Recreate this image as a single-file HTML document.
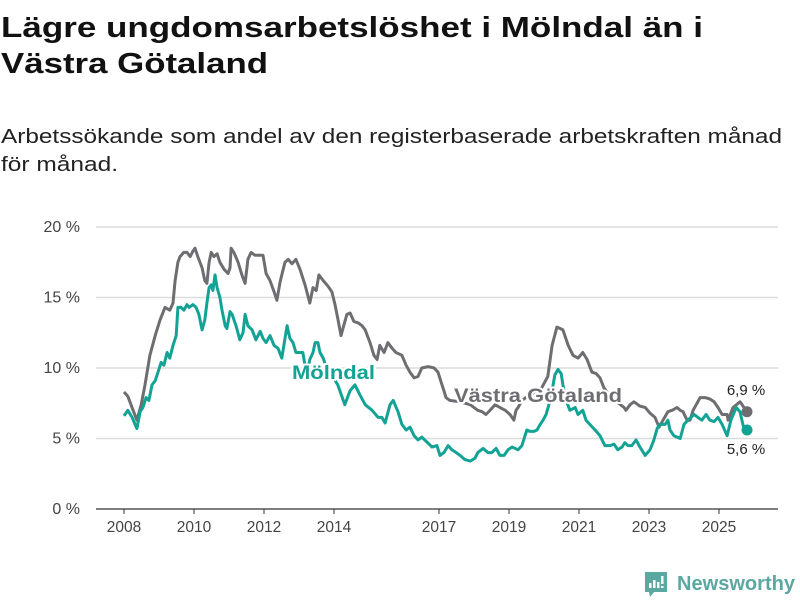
<!DOCTYPE html>
<html><head><meta charset="utf-8"><style>
body{margin:0;background:#fff;}
svg{display:block;font-family:"Liberation Sans","DejaVu Sans",sans-serif;}
</style></head><body>
<svg id="chart" width="800" height="600" viewBox="0 0 800 600" xmlns="http://www.w3.org/2000/svg">
<text x="1" y="37" font-size="29" font-weight="bold" fill="#111" textLength="702" lengthAdjust="spacingAndGlyphs">Lägre ungdomsarbetslöshet i Mölndal än i</text>
<text x="1" y="73" font-size="29" font-weight="bold" fill="#111" textLength="267" lengthAdjust="spacingAndGlyphs">Västra Götaland</text>
<text x="1" y="143" font-size="20" fill="#222" textLength="781" lengthAdjust="spacingAndGlyphs">Arbetssökande som andel av den registerbaserade arbetskraften månad</text>
<text x="1" y="171" font-size="20" fill="#222" textLength="117" lengthAdjust="spacingAndGlyphs">för månad.</text>
<g id="grid"></g><g id="axes"></g><g id="lines"></g><g id="labels"></g>
<g>
<path d="M645 572 h22 v20 h-13 l-4 5 l-1 -5 h-4 z" fill="#5aa8a0"/>
<rect x="649" y="583" width="2.5" height="5" fill="#fff"/><rect x="653" y="580" width="2.5" height="8" fill="#fff"/><rect x="657" y="582" width="2.5" height="6" fill="#fff"/><rect x="661" y="576" width="2.5" height="8" fill="#fff"/><rect x="661" y="586" width="2.5" height="2" fill="#fff"/>
<text x="677" y="590" font-size="20" font-weight="bold" fill="#5aa8a0" textLength="118" lengthAdjust="spacingAndGlyphs">Newsworthy</text>
</g>
</svg>
<script>
const yTicks=[0,5,10,15,20];
const xTickYears=[2008,2010,2012,2014,2017,2019,2021,2023,2025];
const vgDates=[2008.00,2008.11,2008.26,2008.37,2008.49,2008.60,2008.74,2008.89,2009.03,2009.17,2009.31,2009.40,2009.46,2009.54,2009.60,2009.71,2009.80,2009.89,2009.97,2010.03,2010.11,2010.23,2010.31,2010.37,2010.43,2010.49,2010.57,2010.66,2010.74,2010.86,2010.97,2011.03,2011.06,2011.14,2011.26,2011.37,2011.46,2011.54,2011.63,2011.74,2011.86,2011.97,2012.06,2012.17,2012.29,2012.37,2012.46,2012.51,2012.60,2012.69,2012.80,2012.91,2013.03,2013.17,2013.31,2013.40,2013.49,2013.57,2013.69,2013.83,2013.94,2014.03,2014.11,2014.20,2014.29,2014.37,2014.46,2014.57,2014.69,2014.80,2014.89,2015.03,2015.14,2015.23,2015.31,2015.43,2015.54,2015.66,2015.77,2015.94,2016.06,2016.17,2016.29,2016.40,2016.51,2016.69,2016.86,2016.97,2017.06,2017.14,2017.20,2017.31,2017.60,2017.89,2018.11,2018.23,2018.34,2018.46,2018.60,2018.74,2018.89,2019.03,2019.14,2019.20,2019.26,2019.37,2019.60,2019.89,2020.11,2020.23,2020.37,2020.46,2020.54,2020.69,2020.83,2020.97,2021.11,2021.23,2021.37,2021.49,2021.60,2021.71,2021.83,2022.03,2022.29,2022.34,2022.46,2022.57,2022.74,2022.89,2023.03,2023.17,2023.29,2023.40,2023.54,2023.66,2023.80,2023.89,2023.97,2024.09,2024.17,2024.26,2024.46,2024.60,2024.74,2024.86,2024.97,2025.09,2025.23,2025.26,2025.40,2025.60,2025.80];
const vgValues=[8.3,8.0,7.0,6.3,7.4,8.8,10.9,12.3,13.4,14.3,14.1,14.6,16.2,17.5,17.9,18.2,18.2,17.9,18.3,18.5,17.9,17.1,16.2,16.0,17.5,18.2,17.9,18.1,17.5,17.0,16.7,17.1,18.5,18.2,17.5,16.6,16.0,17.7,18.2,18.0,18.0,18.0,16.7,16.2,15.4,14.8,16.1,16.6,17.5,17.7,17.4,17.7,17.0,15.9,14.6,15.7,15.5,16.6,16.2,15.8,15.4,14.5,13.5,12.3,13.1,13.8,13.9,13.3,13.2,13.0,12.7,11.8,10.9,10.6,11.6,11.1,11.8,11.4,11.1,10.9,10.2,9.7,9.3,9.4,10.0,10.1,10.0,9.7,9.0,8.4,7.9,7.7,7.6,7.4,7.0,6.9,6.7,7.0,7.4,7.2,7.0,6.7,6.3,7.0,7.2,7.7,8.1,8.4,9.4,11.6,12.9,12.8,12.7,11.6,10.9,10.7,11.1,10.6,9.7,9.6,9.3,8.6,8.2,7.7,7.2,7.0,7.4,7.6,7.3,7.2,6.8,6.5,5.8,6.3,6.9,7.0,7.2,7.0,6.9,6.3,6.3,7.0,7.9,7.9,7.8,7.6,7.2,6.7,6.7,6.3,7.2,7.6,6.9];
const moDates=[2008.00,2008.11,2008.23,2008.37,2008.46,2008.54,2008.63,2008.71,2008.80,2008.89,2008.97,2009.06,2009.14,2009.23,2009.31,2009.40,2009.49,2009.54,2009.63,2009.71,2009.80,2009.86,2009.97,2010.06,2010.14,2010.23,2010.31,2010.37,2010.43,2010.49,2010.54,2010.60,2010.66,2010.74,2010.80,2010.89,2010.94,2011.03,2011.09,2011.20,2011.31,2011.40,2011.46,2011.54,2011.66,2011.77,2011.89,2011.97,2012.06,2012.17,2012.29,2012.40,2012.51,2012.60,2012.66,2012.74,2012.83,2012.91,2013.03,2013.11,2013.17,2013.26,2013.31,2013.40,2013.46,2013.54,2013.60,2013.69,2013.77,2013.89,2014.11,2014.31,2014.46,2014.60,2014.74,2014.89,2015.09,2015.26,2015.37,2015.46,2015.60,2015.69,2015.83,2015.94,2016.06,2016.17,2016.29,2016.40,2016.51,2016.63,2016.80,2016.94,2017.03,2017.14,2017.26,2017.37,2017.49,2017.60,2017.74,2017.89,2018.03,2018.11,2018.26,2018.40,2018.51,2018.63,2018.74,2018.86,2018.97,2019.09,2019.26,2019.37,2019.51,2019.60,2019.71,2019.80,2019.89,2019.97,2020.06,2020.14,2020.23,2020.31,2020.40,2020.49,2020.54,2020.63,2020.74,2020.89,2020.97,2021.11,2021.20,2021.31,2021.46,2021.60,2021.74,2021.89,2022.00,2022.11,2022.23,2022.31,2022.40,2022.51,2022.63,2022.74,2022.89,2023.03,2023.14,2023.23,2023.31,2023.46,2023.54,2023.60,2023.71,2023.89,2024.00,2024.11,2024.29,2024.40,2024.51,2024.63,2024.74,2024.86,2024.97,2025.09,2025.23,2025.34,2025.49,2025.60,2025.69,2025.80];
const moValues=[6.6,7.0,6.5,5.7,6.9,7.2,7.9,7.7,8.8,9.1,9.7,10.4,10.2,11.1,10.7,11.6,12.3,14.3,14.3,14.1,14.5,14.3,14.5,14.3,13.8,12.7,13.4,14.6,15.7,15.9,15.5,16.6,15.7,15.0,14.1,13.0,12.8,14.0,13.8,13.0,12.0,12.5,13.8,13.0,12.7,12.0,12.6,12.1,11.8,12.3,11.6,11.4,10.7,12.1,13.0,12.1,11.8,11.1,11.1,11.1,10.2,10.0,10.6,11.1,11.8,11.8,11.1,10.7,10.1,9.7,8.8,7.4,8.4,8.8,8.1,7.4,7.0,6.5,6.5,6.1,7.4,7.7,6.9,6.0,5.6,5.8,5.2,4.9,5.1,4.8,4.4,4.5,3.8,4.0,4.5,4.2,4.0,3.8,3.5,3.4,3.6,4.0,4.3,4.0,4.0,4.3,3.8,3.8,4.2,4.4,4.2,4.5,5.6,5.5,5.5,5.6,6.0,6.3,6.7,7.4,8.4,9.5,9.9,9.6,8.8,7.7,7.0,7.2,6.7,7.0,6.3,6.0,5.6,5.2,4.5,4.5,4.6,4.2,4.4,4.7,4.5,4.5,4.9,4.4,3.8,4.2,4.9,5.7,6.0,6.0,6.3,5.6,5.2,5.0,6.0,6.3,6.7,6.5,6.3,6.7,6.3,6.2,6.5,6.0,5.2,6.3,7.2,6.9,5.9,5.6];
const NS="http://www.w3.org/2000/svg";
const x=d=>124+(d-2008)*35;
const y=v=>509-v*14.1;
function mk(tag,parent,attrs){const e=document.createElementNS(NS,tag);for(const k in attrs)e.setAttribute(k,attrs[k]);document.getElementById(parent).appendChild(e);return e;}
yTicks.forEach(t=>{
  const l=mk('line','grid',{x1:96,x2:778,y1:y(t),y2:y(t),stroke:t===0?'#333':'#dcdcdc','stroke-width':t===0?1.2:1.5});
  
  
  const tx=mk('text','axes',{x:80,y:y(t)+5,'font-size':16,fill:'#444','text-anchor':'end'});
  tx.textContent=t+' %';
  
  
});
xTickYears.forEach(yr=>{
  const l=mk('line','axes',{x1:x(yr),x2:x(yr),y1:509,y2:514,stroke:'#333'});
  
  
  const tx=mk('text','axes',{x:x(yr),y:532,'font-size':15.5,fill:'#444','text-anchor':'middle'});
  tx.textContent=yr;
  
  
});
function series(dates,vals,color,name){
  const p=mk('path','lines',{d:dates.map((d,i)=>(i?'L':'M')+x(d).toFixed(1)+' '+y(vals[i]).toFixed(1)).join(' '),fill:'none',stroke:color,'stroke-width':3,'stroke-linejoin':'round'});
  
  
  const n=dates.length-1;
  const c=mk('circle','lines',{cx:x(dates[n]),cy:y(vals[n]),r:5.5,fill:color});
  
  
  return [x(dates[n]),y(vals[n]),vals[n]];
}
const gEnd=series(vgDates,vgValues,'#6e6d72','vastra-gotaland');
const tEnd=series(moDates,moValues,'#13a395','molndal');
function label(txt,xx,yy,color,size,bold,anchor,name,len){
  const a={x:xx,y:yy,'font-size':size,'font-weight':bold?'bold':'normal',fill:color,stroke:'#fff','stroke-width':4,'paint-order':'stroke','stroke-linejoin':'round','text-anchor':anchor||'start'};
  if(len){a.textLength=len;a.lengthAdjust='spacingAndGlyphs';}
  const t=mk('text','labels',a);
  t.textContent=txt;
  
  
}
label('Mölndal',292,379,'#13a395',19,true,'start','molndal-series-label',83);
label('Västra Götaland',454,402,'#6e6d72',19,true,'start','vastra-gotaland-series-label',168);
label(gEnd[2].toFixed(1).replace('.',',')+' %',746,395,'#222',15,false,'middle','vastra-gotaland-value-label');
label(tEnd[2].toFixed(1).replace('.',',')+' %',746,454,'#222',15,false,'middle','molndal-value-label');
</script>
</body></html>
